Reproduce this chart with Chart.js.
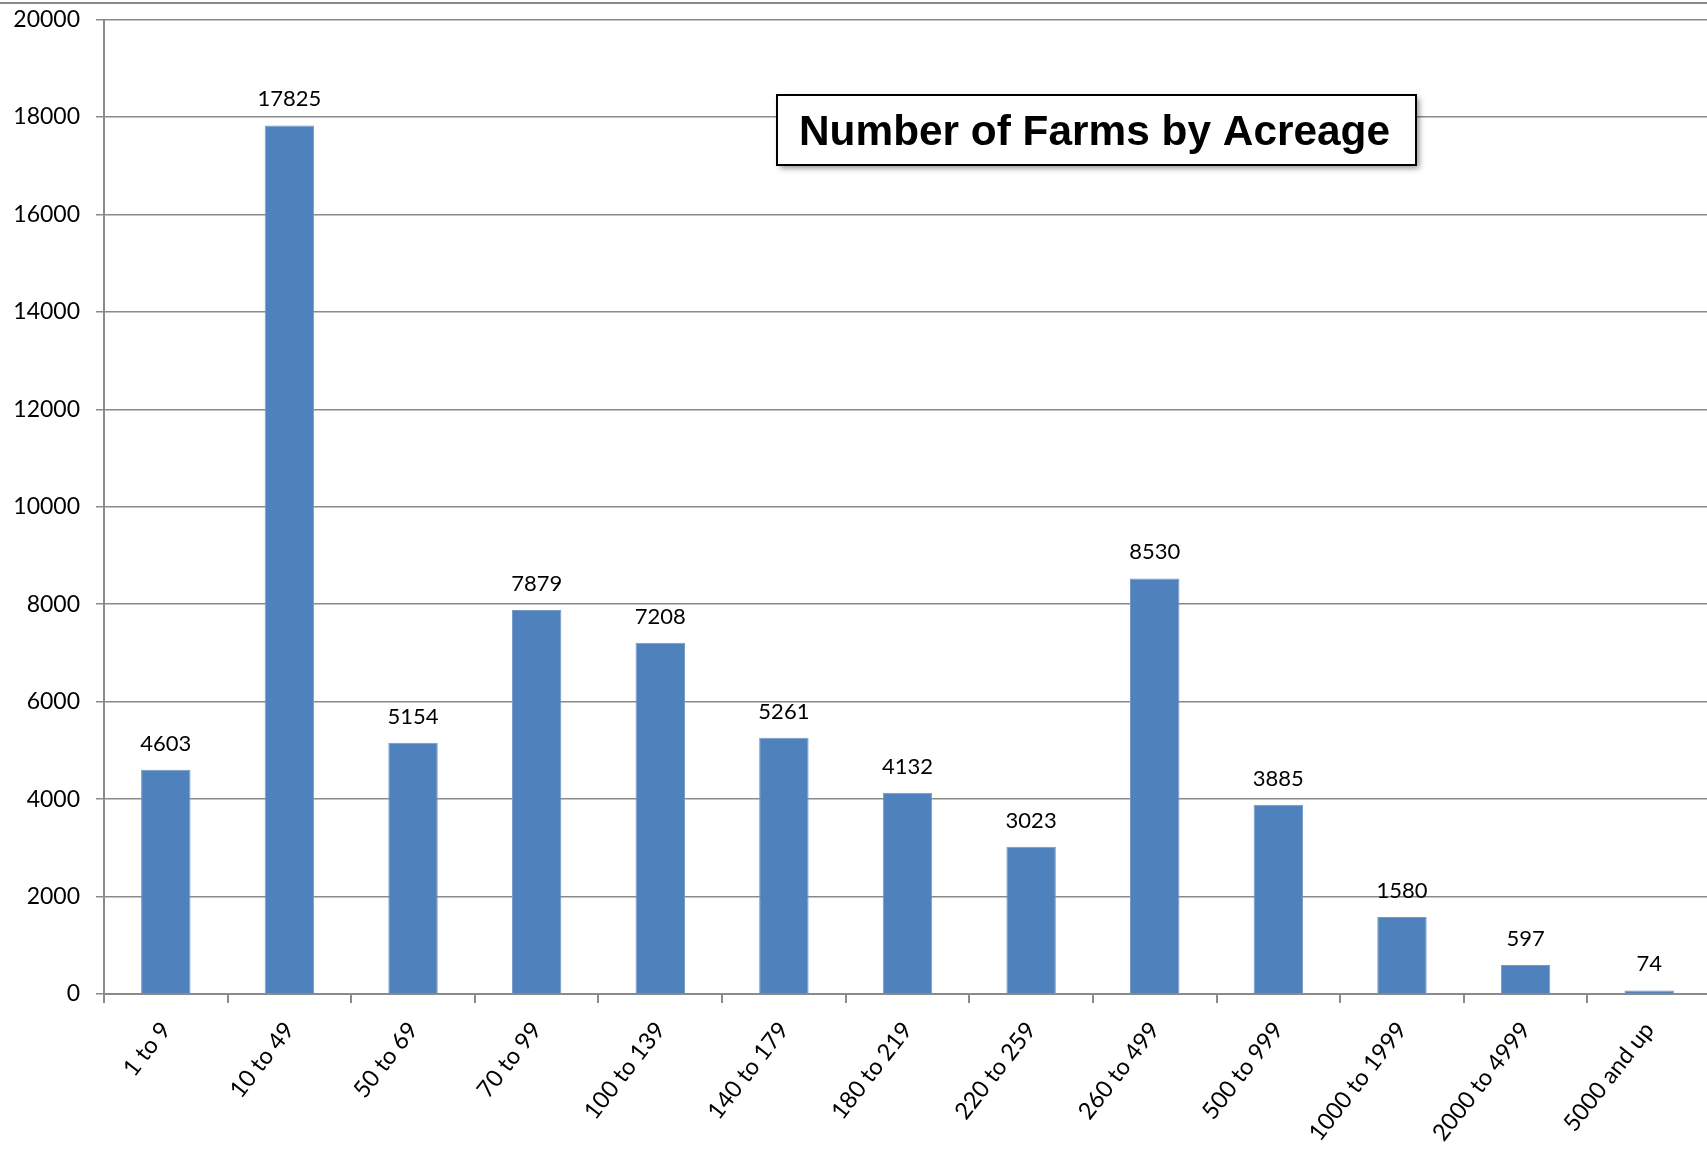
<!DOCTYPE html>
<html>
<head>
<meta charset="utf-8">
<script src="https://cdn.jsdelivr.net/npm/chart.js@4/dist/chart.umd.min.js"></script>
<style>
    html, body { margin: 0; padding: 0; background: #fff; overflow: hidden; }
    .wrap { position: relative; width: 1712px; height: 1172px; }
</style>
</head>
<body>
<div class="wrap"><canvas id="chart"></canvas></div>
<script>
// data
const categories = ["1 to 9", "10 to 49", "50 to 69", "70 to 99", "100 to 139", "140 to 179", "180 to 219",
    "220 to 259", "260 to 499", "500 to 999", "1000 to 1999", "2000 to 4999", "5000 and up"];
const farms = [4603, 17825, 5154, 7879, 7208, 5261, 4132, 3023, 8530, 3885, 1580, 597, 74];
const yMax = 20000;
const yStep = 2000;
const chartTitle = "Number of Farms by Acreage";

const gridGray = "#8a8a8a";

// value labels above each bar
const barLabels = {
    id: "barLabels",
    afterDatasetsDraw(chart) {
        const ctx = chart.ctx;
        const meta = chart.getDatasetMeta(0);
        ctx.save();
        ctx.font = "22px Lato";
        ctx.fillStyle = "#000";
        ctx.textAlign = "center";
        ctx.textBaseline = "alphabetic";
        meta.data.forEach((bar, i) => {
            ctx.fillText(String(farms[i]), bar.x, bar.y - 19);
        });
        ctx.restore();
    },
};

// slanted category labels under the x axis
const slantLabels = {
    id: "slantLabels",
    afterDraw(chart) {
        const ctx = chart.ctx;
        const xs = chart.scales.x;
        ctx.save();
        ctx.font = "23.5px Lato";
        ctx.fillStyle = "#000";
        ctx.textAlign = "right";
        ctx.textBaseline = "alphabetic";
        categories.forEach((c, i) => {
            const px = xs.getPixelForValue(i);
            ctx.save();
            ctx.translate(px + 6, xs.top + 36);
            ctx.rotate(-52 * Math.PI / 180);
            ctx.fillText(c, 0, 0);
            ctx.restore();
        });
        ctx.restore();
    },
};

// boxed title + top border line
const titleBox = {
    id: "titleBox",
    afterDraw(chart) {
        const ctx = chart.ctx;
        ctx.save();
        ctx.fillStyle = gridGray;
        ctx.fillRect(0, 2, chart.width, 2);

        const x = 777, y = 95, w = 639, h = 70;
        ctx.shadowColor = "rgba(0,0,0,0.45)";
        ctx.shadowBlur = 6;
        ctx.shadowOffsetX = 3;
        ctx.shadowOffsetY = 3;
        ctx.fillStyle = "#fff";
        ctx.fillRect(x, y, w, h);
        ctx.shadowColor = "transparent";
        ctx.strokeStyle = "#000";
        ctx.lineWidth = 2;
        ctx.strokeRect(x, y, w, h);

        ctx.font = "bold 43px 'Liberation Sans'";
        ctx.fillStyle = "#000";
        ctx.textBaseline = "alphabetic";
        const tw = ctx.measureText(chartTitle).width;
        const sx = 591 / tw;
        ctx.translate(799, 145);
        ctx.scale(sx, 1);
        ctx.fillText(chartTitle, 0, 0);
        ctx.restore();
    },
};

new Chart(document.getElementById("chart"), {
    type: "bar",
    data: {
        labels: categories,
        datasets: [
            {
                data: farms,
                backgroundColor: "#4F81BD",
                borderColor: "#7399c9",
                borderWidth: 1,
                barPercentage: 0.4,
                categoryPercentage: 1,
            },
        ],
    },
    options: {
        responsive: true,
        maintainAspectRatio: false,
        animation: false,
        layout: {
            padding: { top: 19.5, right: 1, left: 0, bottom: 0 },
        },
        plugins: {
            legend: { display: false },
            tooltip: { enabled: false },
        },
        scales: {
            x: {
                offset: true,
                grid: {
                    offset: true,
                    drawOnChartArea: false,
                    drawTicks: true,
                    tickLength: 9,
                    color: gridGray,
                    lineWidth: 2,
                },
                border: { color: gridGray, width: 2 },
                ticks: { display: false },
                afterFit(scale) {
                    scale.height = 178;
                    scale.paddingLeft = 0;
                    scale.paddingRight = 0;
                },
            },
            y: {
                min: 0,
                max: yMax,
                ticks: {
                    stepSize: yStep,
                    padding: 16,
                    color: "#000",
                    font: { family: "Lato", size: 23 },
                    callback: (v) => String(v),
                },
                grid: {
                    color: gridGray,
                    lineWidth: 1.5,
                    tickLength: 8,
                },
                border: { color: gridGray, width: 2 },
                afterFit(scale) {
                    scale.width = 104;
                    scale.paddingTop = 0;
                    scale.paddingBottom = 0;
                },
            },
        },
    },
    plugins: [barLabels, slantLabels, titleBox],
});
</script>
</body>
</html>
